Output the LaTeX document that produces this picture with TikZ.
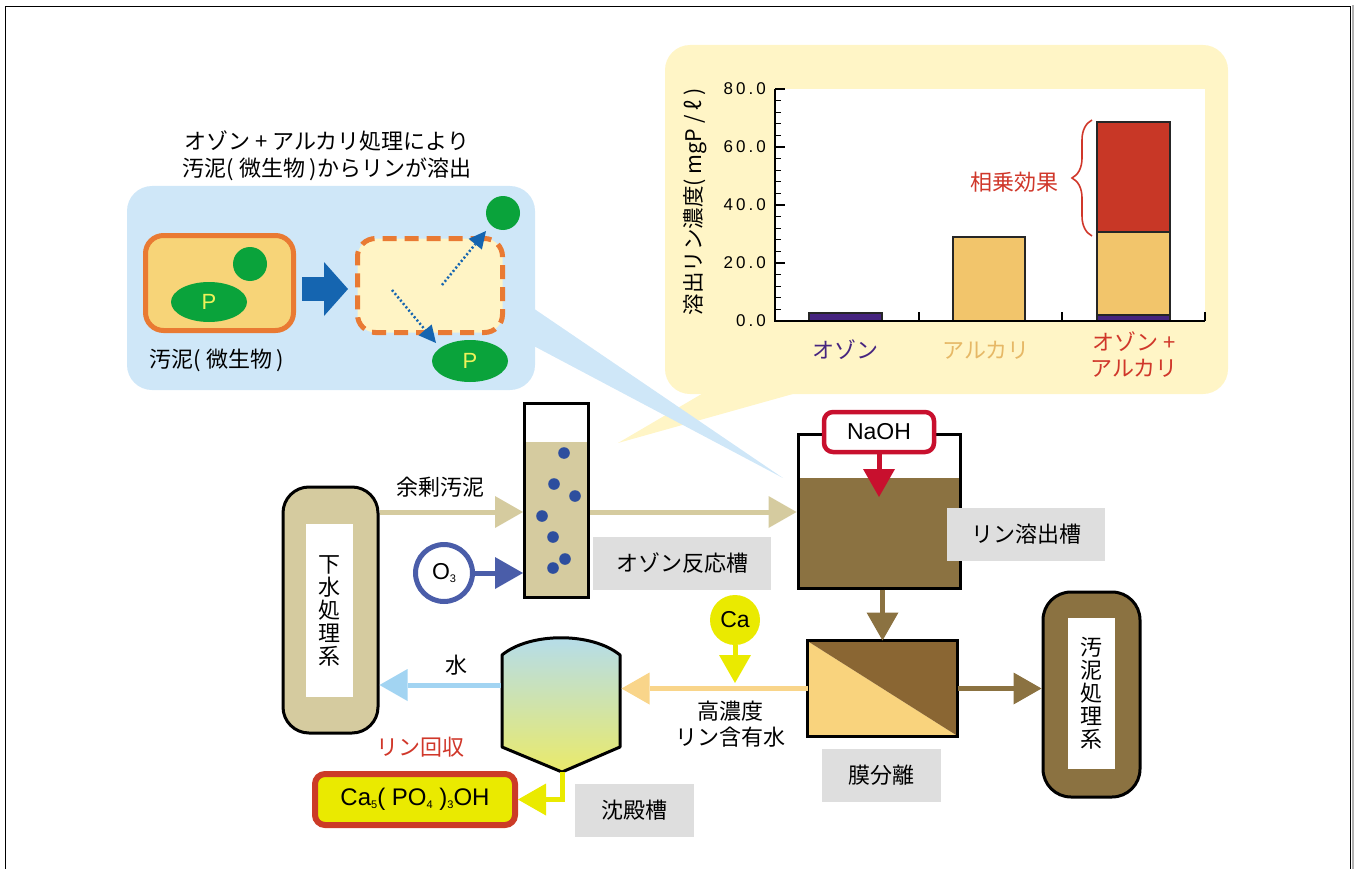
\documentclass[tikz,border=0pt]{standalone}
\usepackage{fontspec}
\setmainfont{Noto Sans CJK JP}
\newfontfamily\latinfont{Liberation Sans}
\newfontfamily\numfont[LetterSpace=18]{Liberation Sans}
\usetikzlibrary{arrows.meta,shapes.geometric,decorations.pathreplacing,calc}

\definecolor{cream}{HTML}{FFF5C6}
\definecolor{skyb}{HTML}{CFE7F8}
\definecolor{khaki}{HTML}{D5CB9F}
\definecolor{brownc}{HTML}{8B7241}
\definecolor{memdark}{HTML}{8A6633}
\definecolor{memlight}{HTML}{F9D37D}
\definecolor{lorange}{HTML}{F9D58A}
\definecolor{lblue}{HTML}{A2D4F2}
\definecolor{ylw}{HTML}{EAEA00}
\definecolor{nared}{HTML}{C8102E}
\definecolor{caborder}{HTML}{CC3B27}
\definecolor{dotblue}{HTML}{2D4E9E}
\definecolor{o3blue}{HTML}{4A5DA9}
\definecolor{lblgray}{HTML}{DEDEDE}
\definecolor{orng}{HTML}{E97A33}
\definecolor{cellfill}{HTML}{F7D478}
\definecolor{palecell}{HTML}{FFF4C5}
\definecolor{grn}{HTML}{0AA33B}
\definecolor{pyel}{HTML}{EEF25A}
\definecolor{dblue}{HTML}{1565B0}
\definecolor{purp}{HTML}{46247F}
\definecolor{baryel}{HTML}{F2C56B}
\definecolor{barred}{HTML}{C83726}
\definecolor{catyel}{HTML}{E6B866}
\definecolor{txtred}{HTML}{D0372A}
\definecolor{sedtop}{HTML}{B3DCEF}
\definecolor{sedbot}{HTML}{EAEA6A}

\newcommand\lowsub[1]{\raisebox{-2.5pt}{\fontsize{11}{11}\selectfont #1}}

\begin{document}
\begin{tikzpicture}[x=1pt,y=-1pt,
  every node/.style={font=\fontsize{22}{26}\selectfont},
  latin/.style={font=\fontsize{23}{26}\selectfont\latinfont},
  flow/.style={line width=5pt,-{Triangle[length=28pt,width=32pt,line width=0pt]}},
  grayl/.style={fill=lblgray,minimum height=53pt,inner sep=0pt},
  ticklbl/.style={font=\fontsize{17}{20}\selectfont\numfont,anchor=east,inner sep=0pt},
  barbox/.style={draw=black!85,line width=1.5pt},
  blob/.style={fill=grn,inner sep=0pt},
  pletter/.style={font=\fontsize{22}{25}\selectfont\latinfont,text=pyel},
  dotarrow/.style={dblue,line width=2.5pt,dash pattern=on 2pt off 2.3pt,
    -{Triangle[length=17pt,width=17pt,line width=0pt]}},
  bigbox/.style={draw=black,line width=3pt,rounded corners=26pt},
  innerwhite/.style={fill=white,inner sep=0pt,align=center,font=\fontsize{22}{23}\selectfont}
]
\useasboundingbox (0,0) rectangle (1356,869);

% page frame
\draw[black!30,line width=2pt] (1353,869) -- (1353,5);
\draw[line width=1.2pt] (5.5,869) -- (5.5,6.5) -- (1350.5,6.5) -- (1350.5,869);

% ---------- chart callout ----------
\fill[cream,rounded corners=25pt] (665,45) rectangle (1228,394);
\fill[cream] (705,392) -- (618,443) -- (800,392) -- cycle;
\fill[white] (775,89) rectangle (1205,321);

% bars
\draw[barbox,fill=purp] (809,321) rectangle (882,313);
\draw[barbox,fill=baryel] (953,321) rectangle (1025,237);
\draw[barbox,fill=purp] (1097,321) rectangle (1170,315);
\draw[barbox,fill=baryel] (1097,315) rectangle (1170,232);
\draw[barbox,fill=barred] (1097,232) rectangle (1170,122);

% axes and ticks
\draw[line width=1.5pt] (775,89) -- (775,321) -- (1205,321);
\foreach \k in {0,...,20} \draw[line width=1.3pt] (775,{321-\k*11.6}) -- ++(6,0);
\foreach \k in {0,5,...,20} \draw[line width=1.5pt] (775,{321-\k*11.6}) -- ++(10,0);
\foreach \xx in {919,1062,1205} \draw[line width=1.3pt] (\xx,321) -- ++(0,-9);

\node[ticklbl] (t0) at (766,321) {0.0};
\node[ticklbl] (t20) at (766,263) {20.0};
\node[ticklbl] (t40) at (766,205) {40.0};
\node[ticklbl] (t60) at (766,147) {60.0};
\node[ticklbl] (t80) at (766,89) {80.0};

\node[rotate=90,font=\fontsize{21.5}{24}\selectfont] (ytitle) at (695,202) {溶出リン濃度( mgP / ℓ )};

\node[text=purp] (cat1) at (845,350) {オゾン};
\node[text=catyel] (cat2) at (986,350) {アルカリ};
\node[text=txtred,align=center,font=\fontsize{22}{26}\selectfont] (cat3) at (1134,355) {オゾン +\\アルカリ};

\draw[txtred,line width=1.6pt,decorate,decoration={brace,amplitude=20pt}] (1092,236) -- (1092,120);
\node[text=txtred] (synergy) at (1014,182) {相乗効果};

% ---------- cell callout ----------
\fill[skyb,rounded corners=25pt] (127,186) rectangle (535,390);
\fill[skyb] (530,306) -- (783,478) -- (530,344) -- cycle;

\node[align=center,font=\fontsize{22}{27.5}\selectfont] (title) at (327,156) {オゾン + アルカリ処理により\\汚泥( 微生物 )からリンが溶出};

\node[draw=orng,line width=5pt,fill=cellfill,rounded corners=18pt,minimum width=148pt,minimum height=95pt] (cell1) at (219.5,283) {};
\node[blob,circle,minimum size=34pt] (g1) at (250,264) {};
\node[blob,ellipse,minimum width=76pt,minimum height=40pt,pletter] (p1) at (209,302) {P};
\node (cell1lbl) at (217,360) {汚泥( 微生物 )};

\node[draw=orng,line width=5pt,dash pattern=on 14pt off 8pt,fill=palecell,rounded corners=18pt,minimum width=145pt,minimum height=94pt] (cell2) at (430,285.5) {};
\node[blob,circle,minimum size=34pt] (g2) at (503,213) {};
\node[blob,ellipse,minimum width=76pt,minimum height=42pt,pletter] (p2) at (470,361) {P};

\draw[dblue,line width=24pt,-{Triangle[length=24pt,width=54pt,line width=0pt]},shorten <=6pt,shorten >=7pt]
  (cell1.east |- 0,289) -- (cell2.west |- 0,289);

\coordinate (d1s) at (442,285);
\coordinate (d1e) at (486,231);
\coordinate (d2s) at (392,290);
\coordinate (d2e) at (436,343);
\draw[dotarrow] (d1s) -- (d1e);
\draw[dotarrow] (d2s) -- (d2e);

% ---------- process flow ----------
\node[bigbox,fill=khaki,minimum width=95pt,minimum height=246pt] (gesui) at (330.5,610) {};
\node[innerwhite,minimum width=47pt,minimum height=173pt] (gesuitxt) at (329.5,610.5) {下\\水\\処\\理\\系};

\node[draw=black,line width=3pt,minimum width=64pt,minimum height=194pt,inner sep=0pt,
  path picture={\fill[khaki] ([yshift=-39pt]path picture bounding box.north west) rectangle (path picture bounding box.south east);}]
  (oz) at (556.5,500) {};
\foreach \dx/\dy [count=\i] in {564/453,554/484,575/496,542/516,553/537,565/559,553/568}
  \fill[dotblue] (\dx,\dy) circle (5.8pt);

\node[circle,draw=o3blue,line width=5pt,fill=white,minimum size=57pt,inner sep=0pt,latin] (o3) at (444,573) {O\lowsub{3}};
\node[grayl,minimum width=178pt] (ozlbl) at (682,563) {オゾン反応槽};

\draw[flow,khaki] (gesui.east |- 0,512) -- (oz.west |- 0,512);
\node (yojo) at (440,487) {余剰汚泥};
\draw[flow,o3blue] (o3.east) -- (oz.west |- o3.east);

\node[draw=black,line width=3pt,minimum width=162pt,minimum height=154pt,inner sep=0pt,
  path picture={\fill[brownc] ([yshift=-44pt]path picture bounding box.north west) rectangle (path picture bounding box.south east);}]
  (rin) at (879,511) {};
\draw[flow,khaki] (oz.east |- 0,512) -- (rin.west |- 0,512);
\node[draw=nared,line width=4.5pt,fill=white,rounded corners=9pt,minimum width=110pt,minimum height=40pt,latin] (naoh) at (879,432) {NaOH};
\coordinate (naohin) at (879,497);
\draw[flow,nared] (naoh.south) -- (naohin);
\node[grayl,minimum width=158pt] (rinlbl) at (1026,534.5) {リン溶出槽};

\node[minimum width=147pt,minimum height=93pt,inner sep=0pt,outer sep=1.5pt,
  path picture={
    \fill[memlight] (path picture bounding box.north west) -- (path picture bounding box.south west) -- (path picture bounding box.south east) -- cycle;
    \fill[memdark] (path picture bounding box.north west) -- (path picture bounding box.north east) -- (path picture bounding box.south east) -- cycle;}]
  (mem) at (882.5,688.5) {};
\draw[line width=3.5pt] (mem.south west) rectangle (mem.north east);
\draw[flow,brownc] (rin.south -| mem.north) -- (mem.north);
\node[grayl,minimum width=119pt] (memlbl) at (881.5,775.5) {膜分離};

\node[bigbox,fill=brownc,minimum width=97pt,minimum height=205pt,rounded corners=28pt] (odei) at (1091.5,694.5) {};
\node[innerwhite,minimum width=47pt,minimum height=151pt] (odeitxt) at (1091.5,693.5) {汚\\泥\\処\\理\\系};
\draw[flow,brownc] (mem.east) -- (odei.west |- mem.east);

% sedimentation tank
\draw[line width=3pt,top color=sedtop,bottom color=sedbot,line join=round]
  (502,655) .. controls (530,632) and (592,632) .. (620,655) -- (620,747) -- (562,772) -- (502,747) -- cycle;
\node[minimum width=118pt,minimum height=137pt,inner sep=0pt,outer sep=1.5pt] (sed) at (561,703.5) {};
\node[grayl,minimum width=119pt] (sedlbl) at (634.5,810.5) {沈殿槽};

\draw[flow,lorange] (mem.west) -- (sed.east |- mem.west);
\node[circle,fill=ylw,minimum size=50pt,inner sep=0pt,latin] (ca) at (735,620) {Ca};
\draw[flow,ylw] (ca.south) -- (ca.south |- 0,683);
\node[align=center,font=\fontsize{22}{26}\selectfont] (konodo) at (730,724) {高濃度\\リン含有水};

\draw[flow,lblue] (sed.west |- 0,685) -- (gesui.east |- 0,685);
\node (mizu) at (456,665) {水};

\node[draw=caborder,line width=6pt,fill=ylw,rounded corners=10pt,minimum width=200pt,minimum height=51pt,font=\fontsize{24}{26}\selectfont\latinfont] (ca5) at (415,799.5) {Ca\lowsub{5}( PO\lowsub{4} )\lowsub{3}OH};
\draw[flow,ylw] (562,772) |- (ca5.east);
\node[text=txtred] (kaishu) at (420,747) {リン回収};

\end{tikzpicture}
\end{document}
